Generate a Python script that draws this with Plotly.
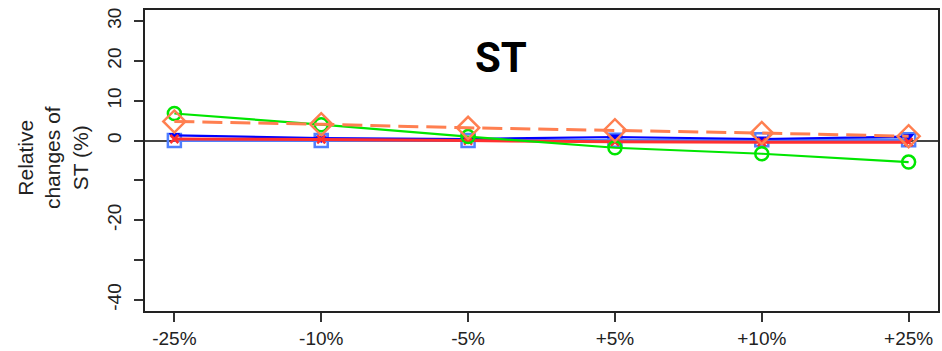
import plotly.graph_objects as go

# Scenario labels on the x axis
scenarios = ["-25%", "-10%", "-5%", "+5%", "+10%", "+25%"]

# Relative changes of ST (%) for each parameter series
series_lightblue = [0.0, 0.0, 0.0, 0.1, 0.2, 0.2]
series_blue = [1.3, 0.6, 0.4, 0.9, 0.4, 1.0]
series_red = [0.4, 0.3, 0.0, -0.3, -0.4, -0.4]
series_green = [6.8, 4.0, 1.0, -1.8, -3.3, -5.4]
series_coral = [4.8, 4.1, 3.2, 2.6, 1.9, 1.1]

# Y axis ticks (labels skipped at -10 and -30)
y_tickvals = [-40, -30, -20, -10, 0, 10, 20, 30]
y_ticktext = ["-40", "", "-20", "", "0", "10", "20", "30"]

x_idx = list(range(len(scenarios)))

fig = go.Figure()

fig.add_trace(go.Scatter(
    x=x_idx, y=series_lightblue, mode="lines+markers",
    line=dict(color="#4F7FFF", width=3),
    marker=dict(symbol="square-open", size=13, color="#4F7FFF",
                line=dict(width=2.5, color="#4F7FFF")),
))
fig.add_trace(go.Scatter(
    x=x_idx, y=series_blue, mode="lines+markers",
    line=dict(color="#0000FF", width=2.2),
    marker=dict(symbol="triangle-down", size=10, color="#0000FF"),
))
fig.add_trace(go.Scatter(
    x=x_idx, y=series_red, mode="lines+markers",
    line=dict(color="#FF3030", width=3),
    marker=dict(symbol="x-thin-open", size=8, color="#FF3030",
                line=dict(width=2.5, color="#FF3030")),
))
fig.add_trace(go.Scatter(
    x=x_idx, y=series_green, mode="lines+markers",
    line=dict(color="#00E600", width=2.2),
    marker=dict(symbol="circle-open", size=13, color="#00E600",
                line=dict(width=2.5, color="#00E600")),
))
fig.add_trace(go.Scatter(
    x=x_idx, y=series_coral, mode="lines+markers",
    line=dict(color="#FF7F50", width=3, dash="20px,8px"),
    marker=dict(symbol="diamond-open", size=17, color="#FF7F50",
                line=dict(width=2.5, color="#FF7F50")),
))

fig.update_layout(
    width=942, height=351,
    margin=dict(l=145, r=2, t=10, b=38),
    paper_bgcolor="white", plot_bgcolor="white",
    showlegend=False,
    font=dict(family="Liberation Sans, Arial, sans-serif", color="#222", size=18),
    xaxis=dict(
        range=[-0.2, 5.2], tickvals=x_idx, ticktext=scenarios,
        showgrid=False, zeroline=False,
        showline=True, mirror=True, linecolor="#222", linewidth=1.5,
        ticks="outside", ticklen=9, tickcolor="#333", tickwidth=1.5,
        tickfont=dict(size=19),
    ),
    yaxis=dict(
        range=[-42.8, 32.8], tickvals=y_tickvals, ticktext=y_ticktext,
        tickangle=-90, ticklabelstandoff=6,
        showgrid=False, zeroline=True, zerolinecolor="#444", zerolinewidth=1.5,
        showline=True, mirror=True, linecolor="#222", linewidth=1.5,
        ticks="outside", ticklen=9, tickcolor="#333", tickwidth=1.5,
        tickfont=dict(size=19),
    ),
    annotations=[
        dict(text="<b>ST</b>", xref="paper", yref="paper", x=0.449, y=0.842,
             xanchor="center", yanchor="middle", showarrow=False,
             font=dict(family="Liberation Sans Narrow, Roboto, sans-serif",
                       size=42, color="black")),
        dict(text="Relative<br>changes of<br>ST (%)", xref="paper", yref="paper",
             x=0, y=0.508, xshift=-92, xanchor="center", yanchor="middle",
             textangle=-90, showarrow=False,
             font=dict(size=21, color="#222")),
    ],
)

fig.write_html("out.html")
